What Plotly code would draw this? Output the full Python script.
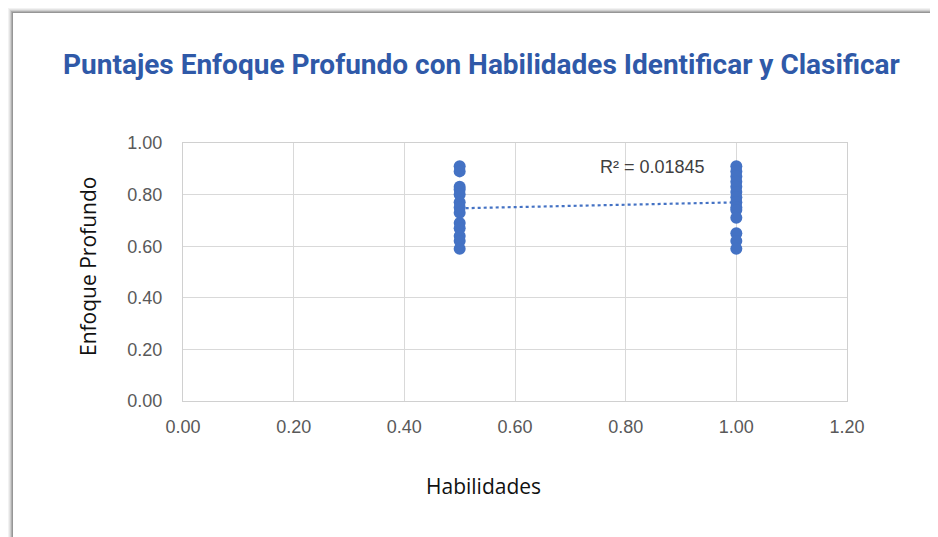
import numpy as np
import plotly.graph_objects as go

x_half = [0.5] * 13
y_half = [0.91, 0.89, 0.83, 0.82, 0.80, 0.77, 0.75, 0.73, 0.69, 0.67, 0.64, 0.62, 0.59]
x_one = [1.0] * 14
y_one = [0.91, 0.89, 0.87, 0.85, 0.83, 0.81, 0.79, 0.77, 0.75, 0.74, 0.71, 0.65, 0.62, 0.59]
x_vals = x_half + x_one
y_vals = y_half + y_one
x_ticks = [0.0, 0.2, 0.4, 0.6, 0.8, 1.0, 1.2]
y_ticks = [0.0, 0.2, 0.4, 0.6, 0.8, 1.0]
r2_text = "R² = 0.01845"
title_text = "Puntajes Enfoque Profundo con Habilidades Identificar y Clasificar"

blue = "#4472C4"
slope, intercept = np.polyfit(x_vals, y_vals, 1)
tx = np.array([min(x_vals), max(x_vals)])
ty = slope * tx + intercept

fig = go.Figure()
fig.add_trace(go.Scatter(x=tx, y=ty, mode="lines",
                         line=dict(color=blue, width=2.2, dash="dot"),
                         hoverinfo="skip", showlegend=False))
fig.add_trace(go.Scatter(x=x_vals, y=y_vals, mode="markers",
                         marker=dict(color=blue, size=12),
                         showlegend=False))

tick_font = dict(family="Liberation Sans, Arial", size=18, color="#595959")
fig.update_xaxes(range=[0, 1.2], tickvals=x_ticks, ticktext=[f"{v:.2f}" for v in x_ticks],
                 showgrid=True, gridcolor="#d9d9d9", gridwidth=1,
                 showline=True, linecolor="#d0d0d0", mirror=True, zeroline=False,
                 ticks="", tickfont=tick_font, ticklabelstandoff=9)
fig.update_yaxes(range=[0, 1.0], tickvals=y_ticks, ticktext=[f"{v:.2f}" for v in y_ticks],
                 showgrid=True, gridcolor="#d9d9d9", gridwidth=1,
                 showline=True, linecolor="#d0d0d0", mirror=True, zeroline=False,
                 ticks="", tickfont=tick_font, ticklabelstandoff=16)

fig.add_annotation(x=0.449, y=1, xref="paper", yref="paper", yshift=79, yanchor="middle",
                   text=f"<b>{title_text}</b>", showarrow=False,
                   font=dict(family="Roboto", size=28, color="#2F59A8"))
fig.add_annotation(x=0.453, y=0, xref="paper", yref="paper", yshift=-85, yanchor="middle",
                   text="Habilidades", showarrow=False,
                   font=dict(family="Open Sans, Noto Sans", size=21, color="#111111"))
fig.add_annotation(x=0, y=0.5, xref="paper", yref="paper", xshift=-95, yshift=5, xanchor="center",
                   text="Enfoque Profundo", textangle=-90, showarrow=False,
                   font=dict(family="Open Sans, Noto Sans", size=21, color="#111111"))
fig.add_annotation(x=0.75, y=0.907, xref="x", yref="y", xanchor="left", yanchor="middle",
                   text=r2_text, showarrow=False,
                   font=dict(family="Liberation Sans, Arial", size=18, color="#404040"))

W, H = 930, 529
L, R, T, B = 175, 91, 135, 136
fig.update_layout(
    width=W, height=H,
    margin=dict(l=L, r=R, t=T, b=B),
    paper_bgcolor="white", plot_bgcolor="white",
)
pw, ph = W - L - R, H - T - B
def px_to_paper_x(px):
    return (px - L) / pw
def px_to_paper_y(py):
    return (H - B - py) / ph
for off, c in [(0, "#f2f2f2"), (1, "#e4e4e4"), (2, "#cfcfcf"), (3, "#b0b0b0"), (4, "#969696")]:
    fig.add_shape(type="line", xref="paper", yref="paper",
                  x0=px_to_paper_x(off), x1=px_to_paper_x(W + 5),
                  y0=px_to_paper_y(off + 0.5), y1=px_to_paper_y(off + 0.5),
                  line=dict(color=c, width=1))
    fig.add_shape(type="line", xref="paper", yref="paper",
                  x0=px_to_paper_x(off + 0.5), x1=px_to_paper_x(off + 0.5),
                  y0=px_to_paper_y(off), y1=px_to_paper_y(H + 5),
                  line=dict(color=c, width=1))

fig.write_html("out.html")
